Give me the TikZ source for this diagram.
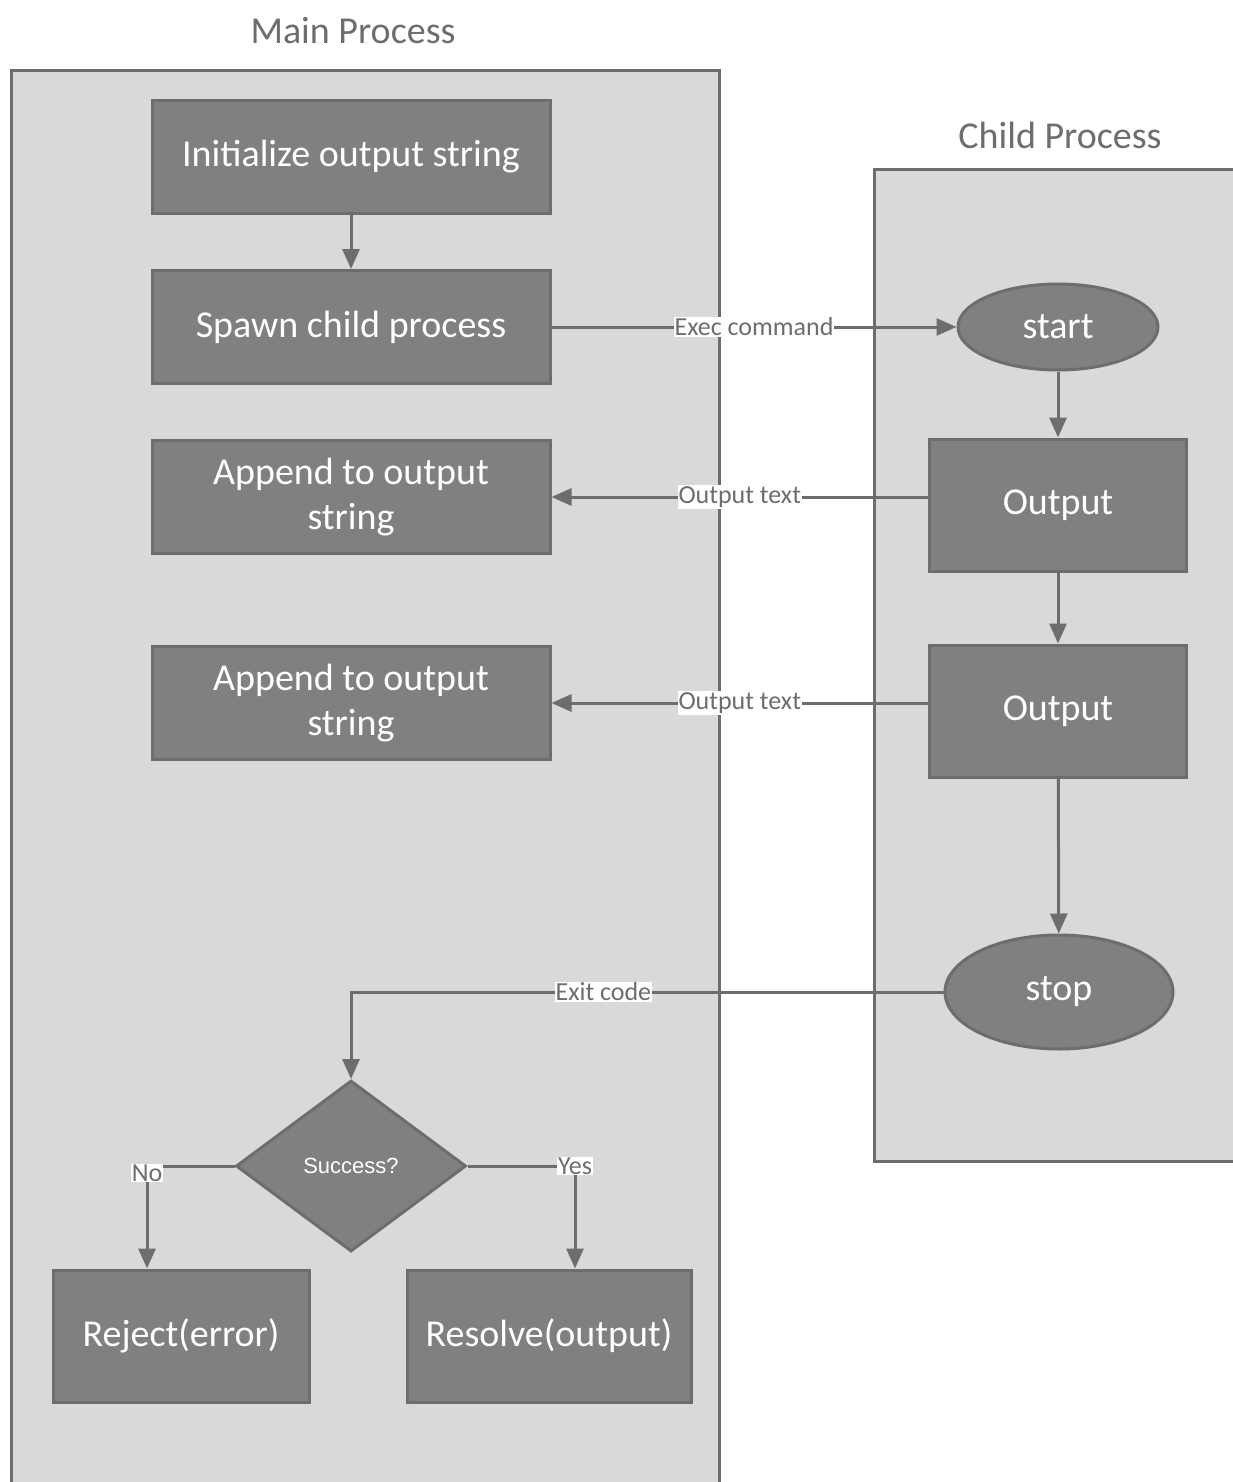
\documentclass[tikz,border=0pt]{standalone}
\usepackage{fontspec}
\setmainfont{Carlito}
\newfontfamily\arialish{Liberation Sans}
\usetikzlibrary{shapes.geometric,arrows.meta}
\definecolor{edgegray}{HTML}{6D6D6D}
\definecolor{lanefill}{HTML}{D9D9D9}
\definecolor{boxfill}{HTML}{808080}
\begin{document}
\begin{tikzpicture}[x=1pt,y=-1pt,
  lane/.style={draw=edgegray, fill=lanefill, line width=3pt},
  lanetitle/.style={text=edgegray, font=\fontsize{38}{44}\selectfont, inner sep=0pt},
  proc/.style={draw=edgegray, fill=boxfill, line width=3pt, text=white,
    font=\fontsize{38}{45}\selectfont, align=center, inner sep=0pt},
  term/.style={ellipse, draw=edgegray, fill=boxfill, line width=3pt, text=white,
    font=\fontsize{38}{45}\selectfont, inner sep=0pt},
  decide/.style={diamond, draw=edgegray, fill=boxfill, line width=3pt, text=white,
    font=\arialish\fontsize{22}{26}\selectfont, inner sep=0pt,
    minimum width=230pt, minimum height=171pt},
  flow/.style={draw=edgegray, line width=3pt, -{Triangle[length=20pt,width=17pt]}},
  tag/.style={fill=white, text=edgegray, font=\fontsize{26}{28}\selectfont, inner sep=1pt}]

\clip (0,0) rectangle (1233,1482);
\fill[white] (0,0) rectangle (1233,1482);

% swimlanes
\draw[lane] (11,71) rectangle (719,1520);
\draw[lane] (874,170) rectangle (1260,1161);
\node[lanetitle] (maintitle) at (353,31) {Main Process};
\node[lanetitle] (childtitle) at (1060,135) {Child Process};

% main process steps
\node[proc, minimum width=398pt, minimum height=113pt] (init) at (351,157) {Initialize output string};
\node[proc, minimum width=398pt, minimum height=113pt] (spawn) at (351,327) {Spawn child process};
\node[proc, minimum width=398pt, minimum height=113pt] (app1) at (351,497) {Append to output\\string};
\node[proc, minimum width=398pt, minimum height=113pt] (app2) at (351,703) {Append to output\\string};
\node[decide] (ok) at (351,1166) {Success?};
\node[proc, minimum width=256pt, minimum height=132pt] (reject) at (181,1336) {Reject(error)};
\node[proc, minimum width=284pt, minimum height=132pt] (resolve) at (549,1336) {Resolve(output)};

% child process steps
\node[term, minimum width=200pt, minimum height=86pt] (start) at (1058,327) {start};
\node[proc, minimum width=257pt, minimum height=132pt] (out1) at (1058,505) {Output};
\node[proc, minimum width=257pt, minimum height=132pt] (out2) at (1058,711) {Output};
\node[term, minimum width=228pt, minimum height=114pt] (stop) at (1059,992) {stop};

% connectors
\draw[flow] (init) -- (spawn);
\draw[flow] (spawn.east) -- node[tag] {Exec command} (start.west);
\draw[flow] (start) -- (out1);
\draw[flow] (out1) -- (out2);
\draw[flow] (out2) -- (stop);
\draw[flow] (out1.west |- app1.east) -- node[tag] {Output text} (app1.east);
\draw[flow] (out2.west |- app2.east) -- node[tag] {Output text} (app2.east);
\draw[flow] (stop.west) -| node[tag, pos=0.287] {Exit code} (ok.north);
\draw[flow] (ok.west) -| node[tag, pos=0.5, yshift=-7pt] {No} (reject.north -| 147,0);
\draw[flow] (ok.east) -| node[tag, pos=0.5] {Yes} (resolve.north -| 575,0);
\end{tikzpicture}
\end{document}
